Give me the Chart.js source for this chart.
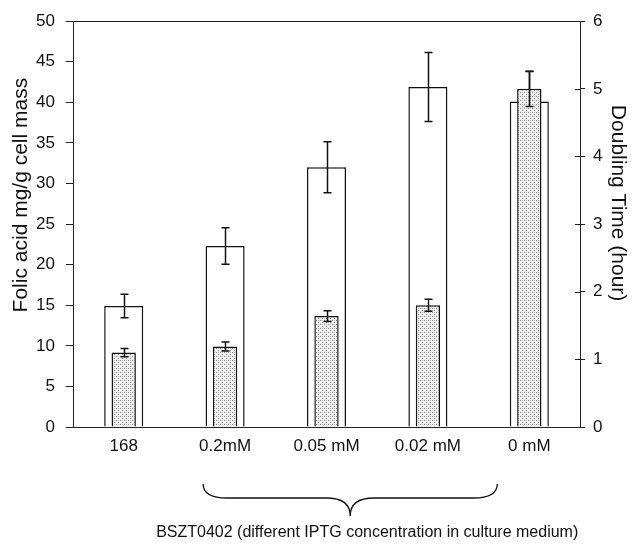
<!DOCTYPE html>
<html>
<head>
<meta charset="utf-8">
<script src="https://cdn.jsdelivr.net/npm/chart.js@4/dist/chart.umd.min.js"></script>
<style>
  html, body { margin: 0; padding: 0; background: #fff; }
  #wrap { width: 633px; height: 546px; position: relative; }
</style>
</head>
<body>
<div id="wrap"><canvas id="c"></canvas></div>
<script>
// ---- Data ----
const categories = ['168', '0.2mM', '0.05 mM', '0.02 mM', '0 mM'];
const folicAcid = [14.9, 22.3, 32.0, 41.9, 40.1];        // mg/g cell mass (left axis)
const folicAcidErr = [1.45, 2.25, 3.15, 4.25, 3.7];
const doublingTime = [1.10, 1.19, 1.64, 1.80, 5.00];     // hours (right axis)
const doublingTimeErr = [0.06, 0.065, 0.08, 0.09, 0.26];
const leftTicks = [0, 5, 10, 15, 20, 25, 30, 35, 40, 45, 50];
const rightTicks = [0, 1, 2, 3, 4, 5, 6];
const leftTitle = 'Folic acid mg/g cell mass';
const rightTitle = 'Doubling Time (hour)';
const groupLabel = 'BSZT0402 (different IPTG concentration in culture medium)';

const FONT = "'Liberation Sans', Arial, sans-serif";

// stipple pattern
function makeStipple() {
  const p = document.createElement('canvas');
  p.width = 4; p.height = 4;
  const g = p.getContext('2d');
  g.fillStyle = '#eeeeee';
  g.fillRect(0, 0, 4, 4);
  g.fillStyle = '#8a8a8a';
  g.fillRect(0, 0, 1, 1);
  g.fillRect(2, 2, 1, 1);
  g.fillStyle = '#bdbdbd';
  g.fillRect(2, 0, 1, 1);
  return g.createPattern(p, 'repeat');
}
const stipple = makeStipple();

const errorBarPlugin = {
  id: 'errorBars',
  afterDatasetDraw(chart, args) {
    const ds = chart.data.datasets[args.index];
    if (!ds.errors) return;
    const meta = args.meta;
    const yScale = chart.scales[meta.yAxisID];
    const ctx = chart.ctx;
    ctx.save();
    ctx.strokeStyle = '#111';
    ctx.lineWidth = 1.5;
    meta.data.forEach((bar, i) => {
      const v = ds.data[i], e = ds.errors[i];
      const x = Math.round(bar.x) + 0.5;
      const yT = yScale.getPixelForValue(v + e);
      const yB = yScale.getPixelForValue(v - e);
      const cw = 4;
      ctx.beginPath();
      ctx.moveTo(x, yT); ctx.lineTo(x, yB);
      ctx.moveTo(x - cw, yT); ctx.lineTo(x + cw, yT);
      ctx.moveTo(x - cw, yB); ctx.lineTo(x + cw, yB);
      ctx.stroke();
    });
    ctx.restore();
  }
};

const framePlugin = {
  id: 'frame',
  afterDraw(chart) {
    const ctx = chart.ctx;
    const a = chart.chartArea;
    const x = chart.scales.x;
    const y1 = chart.scales.y1;
    ctx.save();
    ctx.strokeStyle = '#222';
    ctx.lineWidth = 1;
    // top border
    ctx.beginPath();
    ctx.moveTo(a.left, Math.round(a.top) + 0.5);
    ctx.lineTo(a.right, Math.round(a.top) + 0.5);
    ctx.stroke();
    // inner ticks of right axis
    ctx.beginPath();
    y1.ticks.forEach(t => {
      const yy = Math.round(y1.getPixelForValue(t.value)) + 0.5;
      ctx.moveTo(a.right - 5, yy); ctx.lineTo(a.right, yy);
    });
    ctx.stroke();
    // axis titles
    ctx.fillStyle = '#111';
    ctx.font = '21px ' + FONT;
    ctx.textAlign = 'center';
    ctx.textBaseline = 'middle';
    const midY = (a.top + a.bottom) / 2;
    ctx.save();
    ctx.translate(21, midY - 29);
    ctx.rotate(-Math.PI / 2);
    ctx.fillText(leftTitle, 0, 0);
    ctx.restore();
    ctx.save();
    ctx.translate(618, midY - 21);
    ctx.rotate(Math.PI / 2);
    ctx.fillText(rightTitle, 0, 0);
    ctx.restore();
    // brace
    const x0 = x.getPixelForValue(1) - 22;
    const x1 = x.getPixelForValue(4) - 32;
    const xc = (x0 + x1) / 2;
    const yTip = 484, yMid = 498, yPt = 516, r = 24;
    ctx.lineWidth = 1.3;
    ctx.strokeStyle = '#111';
    ctx.beginPath();
    ctx.moveTo(x0, yTip);
    ctx.quadraticCurveTo(x0, yMid, x0 + r, yMid);
    ctx.lineTo(xc - r, yMid);
    ctx.quadraticCurveTo(xc, yMid, xc, yPt);
    ctx.quadraticCurveTo(xc, yMid, xc + r, yMid);
    ctx.lineTo(x1 - r, yMid);
    ctx.quadraticCurveTo(x1, yMid, x1, yTip);
    ctx.stroke();
    // group label
    ctx.font = '16px ' + FONT;
    ctx.fillText(groupLabel, xc + 17, 533);
    ctx.restore();
  }
};

new Chart(document.getElementById('c'), {
  type: 'bar',
  data: {
    labels: categories,
    datasets: [
      {
        label: 'Doubling Time',
        data: doublingTime,
        errors: doublingTimeErr,
        yAxisID: 'y1',
        backgroundColor: stipple,
        borderColor: '#111',
        borderWidth: 1.5,
        barPercentage: 0.24,
        categoryPercentage: 1,
        grouped: false,
        order: 0
      },
      {
        label: 'Folic acid',
        data: folicAcid,
        errors: folicAcidErr,
        yAxisID: 'y',
        backgroundColor: '#ffffff',
        borderColor: '#111',
        borderWidth: 1.5,
        barPercentage: 0.385,
        categoryPercentage: 1,
        grouped: false,
        order: 1
      }
    ]
  },
  options: {
    responsive: true,
    maintainAspectRatio: false,
    animation: false,
    layout: { padding: { top: 20, left: 0, right: 0, bottom: 0 } },
    plugins: { legend: { display: false }, tooltip: { enabled: false } },
    scales: {
      x: {
        grid: { display: false },
        border: { display: true, color: '#222', width: 1 },
        ticks: { color: '#111', font: { family: FONT, size: 17 }, padding: 1, maxRotation: 0 },
        afterFit(s) { s.height = 119; }
      },
      y: {
        position: 'left',
        min: 0, max: 50,
        afterBuildTicks(s) { s.ticks = leftTicks.map(v => ({ value: v })); },
        grid: { drawOnChartArea: false, color: '#222', tickLength: 7 },
        border: { display: true, color: '#222', width: 1 },
        ticks: { color: '#111', font: { family: FONT, size: 17 }, padding: 11 },
        afterFit(s) { s.width = 73; }
      },
      y1: {
        position: 'right',
        min: 0, max: 6,
        afterBuildTicks(s) { s.ticks = rightTicks.map(v => ({ value: v })); },
        grid: { drawOnChartArea: false, color: '#222', tickLength: 5 },
        border: { display: true, color: '#222', width: 1 },
        ticks: { color: '#111', font: { family: FONT, size: 17 }, padding: 8 },
        afterFit(s) { s.width = 53; }
      }
    }
  },
  plugins: [errorBarPlugin, framePlugin]
});
</script>
</body>
</html>
